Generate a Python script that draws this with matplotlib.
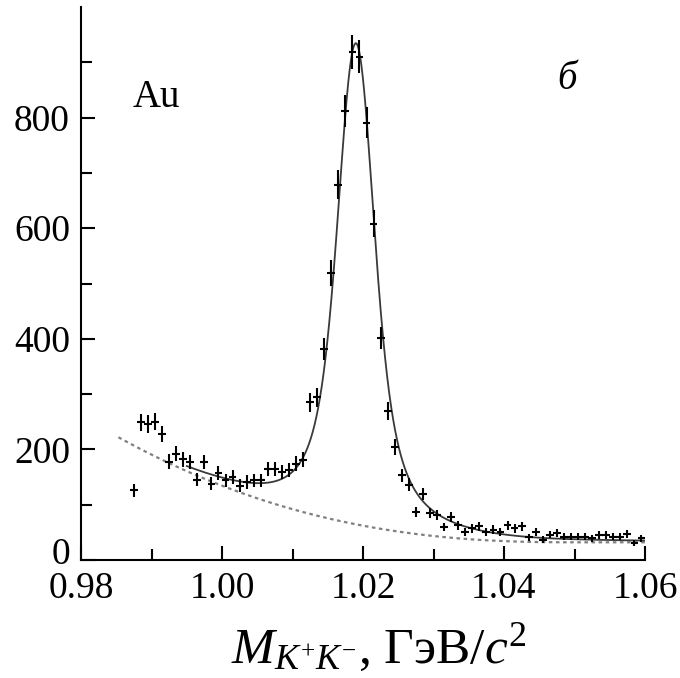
import numpy as np
import matplotlib
matplotlib.use('Agg')
import matplotlib.pyplot as plt
from matplotlib.transforms import ScaledTranslation

plt.rcParams['font.family'] = ['Liberation Serif', 'DejaVu Serif']
plt.rcParams['mathtext.fontset'] = 'custom'
plt.rcParams['mathtext.rm'] = 'Liberation Serif'
plt.rcParams['mathtext.it'] = 'Liberation Serif:italic'
plt.rcParams['mathtext.bf'] = 'Liberation Serif:bold'

# ---- histogram data (1 MeV bins) ----
bin_first = 0.9875
bin_width = 0.001
counts = [126, 249, 246, 250, 228, 178, 192, 182, 177, 145,
          177, 138, 157, 144, 150, 134, 141, 144, 144, 165,
          165, 159, 162, 174, 181, 285, 294, 382, 519, 679,
          812, 919, 910, 791, 608, 401, 270, 205, 153, 136,
          87, 120, 85, 81, 60, 78, 63, 51, 57, 61,
          51, 55, 51, 63, 57, 61, 41, 51, 37, 46,
          49, 42, 42, 42, 42, 39, 45, 45, 42, 42,
          47, 31, 39]
counts = np.array(counts, dtype=float)
mass = bin_first + bin_width * np.arange(len(counts))
errors = np.sqrt(counts)

# ---- fit parameters (Voigt signal + smooth background) ----
phi_mass = 1.0190
phi_width = 0.00426
resolution = 0.00158
peak_height = 870.0
bg_const = 32.0
bg_amp = 135700.0
bg_end = 1.05
bg_power = 2.4
fit_range = (0.995, 1.06)
bg_range = (0.9853, 1.06)

# ---- labels ----
x_ticks = [0.98, 1.00, 1.02, 1.04, 1.06]
x_ticklabels = ['0.98', '1.00', '1.02', '1.04', '1.06']
x_minor = [0.99, 1.01, 1.03, 1.05]
y_ticks = [0, 200, 400, 600, 800]
y_ticklabels = ['0', '200', '400', '600', '800']
y_minor = [100, 300, 500, 700, 900]
target_label = 'Au'
panel_label = 'б'
x_label = r'$M_{K^{+}K^{-}}$, ГэВ/$c^{2}$'


def background(m):
    return bg_const + bg_amp * np.clip(bg_end - m, 0, None) ** bg_power


step = 1e-5
grid = np.arange(0.95, 1.10, step)
lor = (phi_width / 2) ** 2 / ((grid - phi_mass) ** 2 + (phi_width / 2) ** 2)
n = int(round(8 * resolution / step))
t = np.linspace(-n * step, n * step, 2 * n + 1)
kern = np.exp(-0.5 * (t / resolution) ** 2)
voigt = np.convolve(lor, kern, mode='same')
voigt = voigt / voigt.max() * peak_height

fig = plt.figure(figsize=(6.8, 6.78), dpi=100)
ax = fig.add_axes([81 / 680, 1 - 560 / 678, 564 / 680, 553 / 678])

bsel = (grid >= bg_range[0]) & (grid <= bg_range[1])
ax.plot(grid[bsel], background(grid[bsel]), color='#808080', lw=1.6,
        linestyle=(0, (1.6, 1.6)), zorder=1)
fsel = (grid >= fit_range[0]) & (grid <= fit_range[1])
ax.plot(grid[fsel], background(grid[fsel]) + voigt[fsel], color='#3a3a3a',
        lw=1.3, zorder=2)
ax.errorbar(mass, counts, yerr=errors, xerr=0.00055, fmt='none',
            ecolor='black', elinewidth=1.5, capsize=0, zorder=3)

ax.set_xlim(0.98, 1.06)
ax.set_ylim(0, 1000)
ax.set_xticks(x_ticks)
ax.set_xticklabels(x_ticklabels)
ax.set_xticks(x_minor, minor=True)
ax.set_yticks(y_ticks)
ax.set_yticklabels(y_ticklabels)
ax.set_yticks(y_minor, minor=True)
ax.tick_params(which='both', direction='in', width=1.5, labelsize=27,
               pad=8, colors='black')
ax.tick_params(which='major', length=10)
ax.tick_params(which='minor', length=8)
for s in ['top', 'right']:
    ax.spines[s].set_visible(False)
for s in ['left', 'bottom']:
    ax.spines[s].set_linewidth(1.5)

# the "0" label sits slightly above its tick in the reference
for lab in ax.get_yticklabels():
    if lab.get_text() == '0':
        lab.set_transform(lab.get_transform() +
                          ScaledTranslation(0, 0.09, fig.dpi_scale_trans))

ax.text(0.98738, 819, target_label, fontsize=28, va='baseline', ha='left')
ax.text(1.0475, 852, panel_label, fontsize=28, fontstyle='italic',
        va='baseline', ha='left')

ax.set_xlabel(x_label, fontsize=37)
ax.xaxis.label.set_va('baseline')
ax.xaxis.set_label_coords(0.528, -0.186)

fig.savefig('out.png', dpi=100)
